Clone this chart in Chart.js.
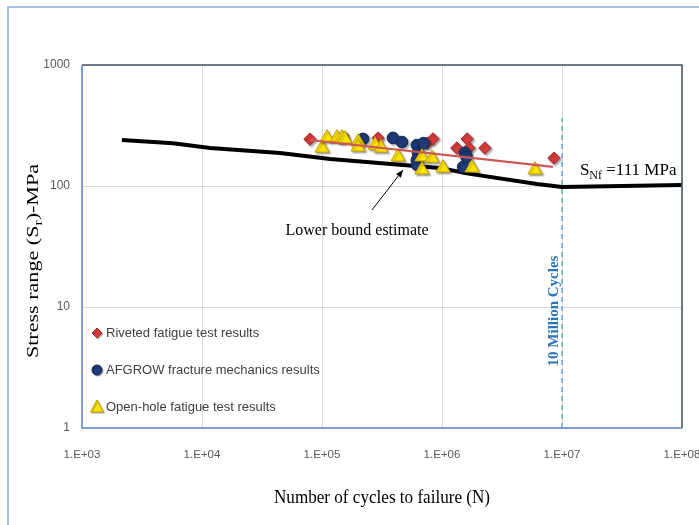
<!DOCTYPE html>
<html>
<head>
<meta charset="utf-8">
<script src="https://cdn.jsdelivr.net/npm/chart.js@4/dist/chart.umd.min.js"></script>
<style>
  html, body { margin: 0; padding: 0; background: #fff; }
  #wrap { width: 699px; height: 525px; }
</style>
</head>
<body>
<div id="wrap"><canvas id="chart" width="699" height="525"></canvas></div>
<script>
// data
let rivetedN = [79400, 293000, 750000, 841000, 1330000, 1620000, 1680000, 2280000, 8580000];
let rivetedS = [244, 249, 226, 245, 206, 245, 206, 206, 170];

let afgrowN = [150000, 220000, 390000, 464000, 617000, 630000, 617000, 617000, 700000, 1550000, 1600000, 1500000];
let afgrowS = [250, 245, 250, 231, 218, 188, 164, 150, 226, 188, 174, 144];

let openN = [100000, 110000, 133000, 147000, 155000, 200000, 200000, 277000, 310000, 430000, 681000, 681000, 826000, 1020000, 1780000, 5960000];
let openS = [206, 250, 250, 250, 245, 232, 210, 218, 206, 174, 174, 136, 170, 141, 141, 136];

let trendN = [79400, 8400000];
let trendS = [240, 144];

let lowerN = [2150, 5730, 11700, 44700, 117000, 473000, 962000, 1710000, 6190000, 10000000, 100000000];
let lowerS = [240, 226, 206, 187, 167, 149, 141, 126, 104, 98, 102];

let limitN = [10000000, 10000000];
let limitS = [1, 365];

let xTicks = [1e3, 1e4, 1e5, 1e6, 1e7, 1e8];
let xTickLabels = ["1.E+03", "1.E+04", "1.E+05", "1.E+06", "1.E+07", "1.E+08"];
let yTicks = [1, 10, 100, 1000];
let yTickLabels = ["1", "10", "100", "1000"];

function pts(xs, ys) {
    return xs.map((x, i) => ({ x: x, y: ys[i] }));
}

const serif = "'Liberation Serif', 'DejaVu Serif', serif";
const sans = "'Liberation Sans', Arial, sans-serif";

// shadow for the markers, like excel's
const shadowPlugin = {
    id: "shadow",
    beforeDatasetDraw(chart, args) {
        const ds = chart.data.datasets[args.index];
        chart.ctx.save();
        if (ds.shadow) {
            chart.ctx.shadowColor = "rgba(0,0,0,0.35)";
            chart.ctx.shadowOffsetX = 1.5;
            chart.ctx.shadowOffsetY = 1.5;
            chart.ctx.shadowBlur = 2;
        }
    },
    afterDatasetDraw(chart) {
        chart.ctx.restore();
    }
};

function drawMarker(ctx, style, x, y, fill, stroke) {
    ctx.beginPath();
    if (style === "rectRot") {
        ctx.moveTo(x, y - 5); ctx.lineTo(x + 5, y); ctx.lineTo(x, y + 5); ctx.lineTo(x - 5, y);
    } else if (style === "circle") {
        ctx.arc(x, y, 5, 0, Math.PI * 2);
    } else {
        ctx.moveTo(x, y - 7); ctx.lineTo(x + 6.5, y + 5); ctx.lineTo(x - 6.5, y + 5);
    }
    ctx.closePath();
    ctx.fillStyle = fill;
    ctx.fill();
    ctx.strokeStyle = stroke;
    ctx.lineWidth = 1;
    ctx.stroke();
}

function drawSub(ctx, parts, x, y, align) {
    let total = 0;
    parts.forEach(p => {
        ctx.font = p.font;
        total += ctx.measureText(p.t).width;
    });
    let cx = align === "center" ? x - total / 2 : x;
    parts.forEach(p => {
        ctx.font = p.font;
        ctx.fillText(p.t, cx, y + (p.sub ? 4 : 0));
        cx += ctx.measureText(p.t).width;
    });
}

const decorPlugin = {
    id: "decor",
    beforeDraw(chart) {
        const ctx = chart.ctx;
        ctx.save();
        ctx.fillStyle = "#fff";
        ctx.fillRect(0, 0, chart.width, chart.height);
        // outer frame
        ctx.strokeStyle = "#8eaadb";
        ctx.lineWidth = 1.5;
        ctx.beginPath();
        ctx.moveTo(8, chart.height);
        ctx.lineTo(8, 7);
        ctx.lineTo(chart.width, 7);
        ctx.stroke();
        ctx.restore();
    },
    afterDraw(chart) {
        const ctx = chart.ctx;
        const a = chart.chartArea;
        const xs = chart.scales.x, ys = chart.scales.y;
        ctx.save();

        // plot border
        ctx.lineWidth = 1.5;
        ctx.strokeStyle = "#44546a";
        ctx.beginPath();
        ctx.moveTo(a.left, a.top); ctx.lineTo(a.right, a.top); ctx.lineTo(a.right, a.bottom);
        ctx.stroke();
        ctx.strokeStyle = "#5b87c7";
        ctx.beginPath();
        ctx.moveTo(a.left, a.top); ctx.lineTo(a.left, a.bottom); ctx.lineTo(a.right, a.bottom);
        ctx.stroke();

        // legend inside the plot
        const items = chart.data.datasets.filter(d => d.legend);
        items.sort((p, q) => p.legend - q.legend);
        items.forEach((d, i) => {
            const y = 333 + i * 37;
            ctx.save();
            ctx.shadowColor = "rgba(0,0,0,0.3)";
            ctx.shadowOffsetX = 1; ctx.shadowOffsetY = 1; ctx.shadowBlur = 1;
            drawMarker(ctx, d.pointStyle, 97, y, d.backgroundColor, d.borderColor);
            ctx.restore();
            ctx.fillStyle = "#404040";
            ctx.font = "13px " + sans;
            ctx.textAlign = "left";
            ctx.textBaseline = "middle";
            ctx.fillText(d.label, 106, y);
        });

        // axis titles (the picture is a bit stretched vertically)
        ctx.fillStyle = "#000";
        ctx.textBaseline = "alphabetic";
        ctx.save();
        ctx.translate((a.left + a.right) / 2, 503);
        ctx.scale(0.9, 1);
        ctx.font = "19px " + serif;
        ctx.textAlign = "center";
        ctx.fillText("Number of cycles to failure (N)", 0, 0);
        ctx.restore();

        ctx.save();
        ctx.translate(38, 261);
        ctx.rotate(-Math.PI / 2);
        ctx.scale(1.3, 1);
        ctx.textAlign = "left";
        drawSub(ctx, [
            { t: "Stress range (S", font: "17px " + serif },
            { t: "r", font: "12px " + serif, sub: true },
            { t: ")-MPa", font: "17px " + serif }
        ], 0, 0, "center");
        ctx.restore();

        // lower bound annotation
        ctx.textAlign = "center";
        ctx.font = "16px " + serif;
        ctx.fillText("Lower bound estimate", xs.getPixelForValue(196000), ys.getPixelForValue(44.2) + 6);
        const x1 = xs.getPixelForValue(261000), y1 = ys.getPixelForValue(63.4);
        const x2 = xs.getPixelForValue(473000), y2 = ys.getPixelForValue(135.6);
        ctx.strokeStyle = "#000";
        ctx.lineWidth = 1;
        ctx.beginPath();
        ctx.moveTo(x1, y1); ctx.lineTo(x2, y2);
        ctx.stroke();
        const ang = Math.atan2(y2 - y1, x2 - x1);
        ctx.beginPath();
        ctx.moveTo(x2, y2);
        ctx.lineTo(x2 - 8 * Math.cos(ang - 0.4), y2 - 8 * Math.sin(ang - 0.4));
        ctx.lineTo(x2 - 8 * Math.cos(ang + 0.4), y2 - 8 * Math.sin(ang + 0.4));
        ctx.closePath();
        ctx.fillStyle = "#000";
        ctx.fill();

        // endurance limit label
        ctx.textAlign = "left";
        drawSub(ctx, [
            { t: "S", font: "17px " + serif },
            { t: "Nf", font: "12px " + serif, sub: true },
            { t: " =111 MPa", font: "17px " + serif }
        ], xs.getPixelForValue(1.41e7), ys.getPixelForValue(123), "left");

        // 10 million cycles
        ctx.save();
        ctx.translate(xs.getPixelForValue(8.58e6), ys.getPixelForValue(9.27));
        ctx.rotate(-Math.PI / 2);
        ctx.fillStyle = "#2e75b6";
        ctx.font = "bold 15px " + serif;
        ctx.textAlign = "center";
        ctx.textBaseline = "middle";
        ctx.fillText("10 Million Cycles", 0, 0);
        ctx.restore();

        ctx.restore();
    }
};

let chart = new Chart(document.getElementById("chart"), {
    type: "scatter",
    data: {
        datasets: [
            {
                label: "trend",
                type: "line",
                data: pts(trendN, trendS),
                borderColor: "#cf5753",
                borderWidth: 2.2,
                pointRadius: 0,
                fill: false,
                order: 1
            },
            {
                label: "Open-hole fatigue test results",
                data: pts(openN, openS),
                pointStyle: "triangle",
                pointRadius: 8.2,
                backgroundColor: "#ffe600",
                borderColor: "#c9a000",
                borderWidth: 1,
                shadow: true,
                legend: 3,
                order: 2
            },
            {
                label: "AFGROW fracture mechanics results",
                data: pts(afgrowN, afgrowS),
                pointStyle: "circle",
                pointRadius: 5.8,
                backgroundColor: "#1f3b7a",
                borderColor: "#15295a",
                borderWidth: 1,
                shadow: true,
                legend: 2,
                order: 3
            },
            {
                label: "Riveted fatigue test results",
                data: pts(rivetedN, rivetedS),
                pointStyle: "rectRot",
                pointRadius: 6.2,
                backgroundColor: "#d63c3c",
                borderColor: "#a52a2a",
                borderWidth: 1,
                shadow: true,
                legend: 1,
                order: 4
            },
            {
                label: "lower bound",
                type: "line",
                data: pts(lowerN, lowerS),
                borderColor: "#000",
                borderWidth: 4,
                pointRadius: 0,
                fill: false,
                order: 5
            },
            {
                label: "10 million",
                type: "line",
                data: pts(limitN, limitS),
                borderColor: "#5b9bd5",
                borderWidth: 1.3,
                borderDash: [5, 4],
                pointRadius: 0,
                fill: false,
                order: 6
            }
        ]
    },
    plugins: [shadowPlugin, decorPlugin],
    options: {
        responsive: false,
        animation: false,
        layout: { padding: { left: 0, right: 0, top: 65, bottom: 0 } },
        plugins: {
            legend: { display: false },
            tooltip: { enabled: false }
        },
        scales: {
            x: {
                type: "logarithmic",
                min: 1e3,
                max: 1e8,
                afterBuildTicks: s => { s.ticks = xTicks.map(v => ({ value: v })); },
                afterFit: s => { s.height = 97; s.paddingLeft = 0; s.paddingRight = 17; },
                ticks: {
                    callback: (v, i) => xTickLabels[i],
                    autoSkip: false,
                    maxRotation: 0,
                    padding: 20,
                    color: "#595959",
                    font: { family: sans, size: 11.5 }
                },
                grid: { color: "#d9d9d9", drawTicks: false },
                border: { display: false }
            },
            y: {
                type: "logarithmic",
                min: 1,
                max: 1000,
                afterBuildTicks: s => { s.ticks = yTicks.map(v => ({ value: v })); },
                afterFit: s => { s.width = 82; },
                ticks: {
                    callback: (v, i) => yTickLabels[i],
                    padding: 12,
                    color: "#595959",
                    font: { family: sans, size: 12 }
                },
                grid: { color: "#d9d9d9", drawTicks: false },
                border: { display: false }
            }
        }
    }
});
</script>
</body>
</html>
